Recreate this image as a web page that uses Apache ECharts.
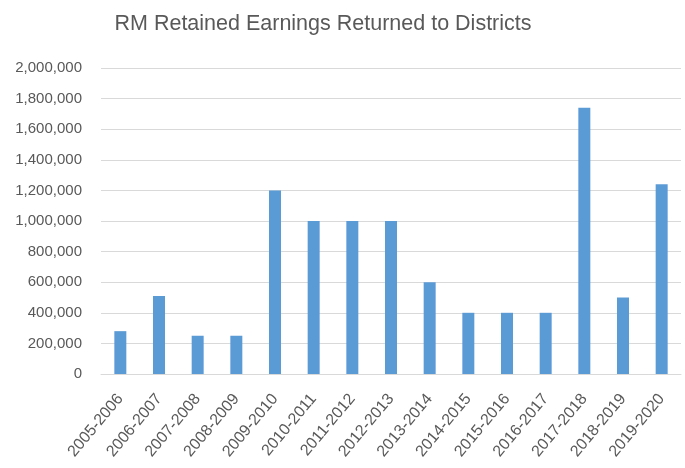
<!DOCTYPE html>
<html><head><meta charset="utf-8">
<script src="https://cdn.jsdelivr.net/npm/echarts@6/dist/echarts.min.js"></script>
<style>html,body{margin:0;padding:0;background:#fff}#c{width:685px;height:468px}</style>
</head><body><div id="c"></div>
<script>
const title = "RM Retained Earnings Returned to Districts";
const categories = ["2005-2006","2006-2007","2007-2008","2008-2009","2009-2010","2010-2011","2011-2012","2012-2013","2013-2014","2014-2015","2015-2016","2016-2017","2017-2018","2018-2019","2019-2020"];
const earnings = [280000,510000,250000,250000,1200000,1000000,1000000,1000000,600000,400000,400000,400000,1740000,500000,1240000];
const yMin = 0, yMax = 2000000, yStep = 200000;

const chart = echarts.init(document.getElementById('c'), null, {renderer:'canvas'});
chart.setOption({
  animation:false,
  backgroundColor:'#fff',
  title:{text:title, left:318, top:8, textAlign:'center',
    textStyle:{fontFamily:'Liberation Sans', fontSize:21.5, fontWeight:'normal', color:'#595959'}},
  grid:{left:101, right:4, top:68, bottom:94, containLabel:false},
  xAxis:{type:'category', data:categories,
    axisLine:{lineStyle:{color:'#d9d9d9'}}, axisTick:{show:false},
    axisLabel:{rotate:50, interval:0, color:'#595959', fontFamily:'Liberation Sans', fontSize:16, margin:22}},
  yAxis:{type:'value', min:yMin, max:yMax, interval:yStep,
    axisLine:{show:false}, axisTick:{show:false},
    splitLine:{lineStyle:{color:'#d9d9d9'}},
    axisLabel:{color:'#595959', fontFamily:'Liberation Sans', fontSize:15, margin:19,
      formatter:v=>v.toLocaleString('en-US')}},
  series:[{type:'bar', data:earnings, barWidth:12, itemStyle:{color:'#5B9BD5'}}]
});
</script></body></html>
